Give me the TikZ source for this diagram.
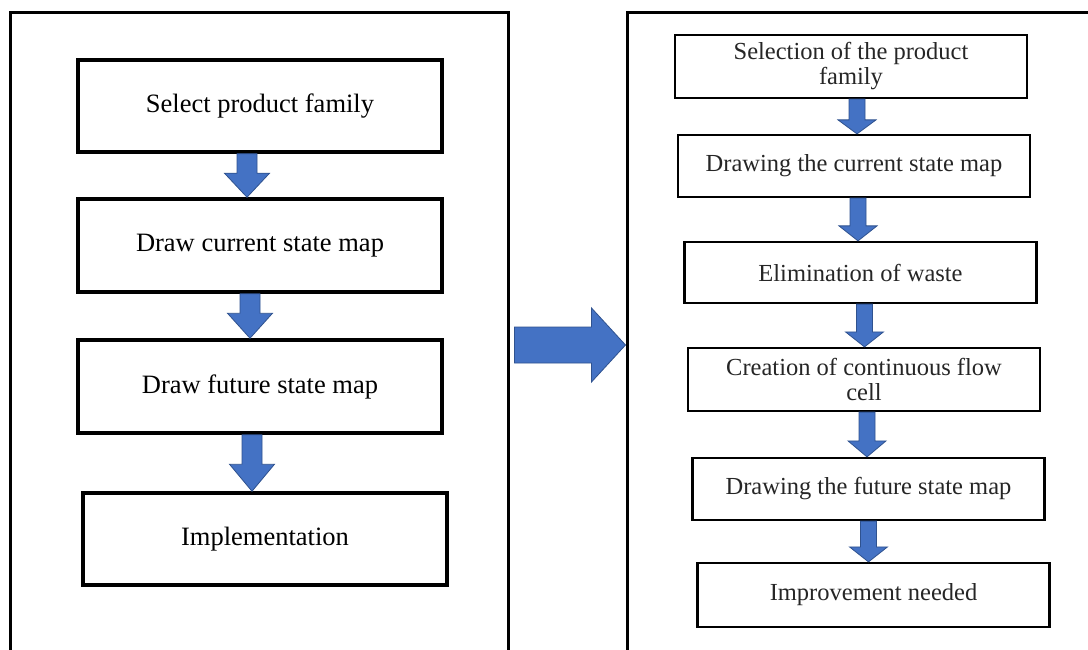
\documentclass[tikz,border=0pt]{standalone}
\usepackage{fontspec}
\setmainfont{Liberation Serif}
\usetikzlibrary{calc}
\definecolor{arrowblue}{RGB}{68,114,196}
\definecolor{arrowedge}{RGB}{47,82,143}
\newcommand\flowdown[6]{\draw[blockarrow] let \p1=($(#1.south)+(#3,0)$), \p2=(#2.north) in
  (\x1-#4pt,\y1) -- (\x1+#4pt,\y1) -- (\x1+#4pt,\y2+#6pt) -- (\x1+#5pt,\y2+#6pt) -- (\x1,\y2)
  -- (\x1-#5pt,\y2+#6pt) -- (\x1-#4pt,\y2+#6pt) -- cycle;}
\begin{document}
\begin{tikzpicture}[x=1pt,y=-1pt]
        \tikzstyle{panel}=[draw,line width=3pt,minimum width=498pt,minimum height=664pt,inner sep=0pt]
        \tikzstyle{leftbox}=[draw,line width=3.5pt,fill=white,minimum width=364pt,minimum height=92pt,font=\fontsize{26.5}{30}\selectfont]
        \tikzstyle{rightbox}=[draw,line width=2.2pt,fill=white,minimum width=352pt,minimum height=63pt,align=center,inner sep=2pt,text=black!85,font=\fontsize{24.5}{25}\selectfont]
        \tikzstyle{blockarrow}=[fill=arrowblue,draw=arrowedge,line width=0.8pt,line join=miter]
        \clip (0,0) rectangle (1088,650);
        \fill[white] (0,0) rectangle (1088,650);
        \node[panel] (leftpanel) at (259,345) {};
        \node[panel,minimum width=493pt] (rightpanel) at (873.5,345) {};
        \node[leftbox] (select) at (260,106) {Select product family};
        \node[leftbox,minimum height=93pt] (current) at (260,245.5) {Draw current state map};
        \node[leftbox,minimum height=93pt] (future) at (260,386.5) {Draw future state map};
        \node[leftbox] (implement) at (265,539) {Implementation};
        \node[rightbox] (selection) at (851,66.5) {Selection of the product\\family};
        \node[rightbox,minimum height=62pt] (drawcurrent) at (854,166) {Drawing the current state map};
        \node[rightbox,minimum height=61pt] (waste) at (860.5,272.5) {Elimination of waste};
        \node[rightbox] (flowcell) at (864,379.5) {Creation of continuous flow\\cell};
        \node[rightbox,minimum height=62pt] (drawfuture) at (868.5,489) {Drawing the future state map};
        \node[rightbox,minimum height=64pt] (improve) at (873.5,595) {Improvement needed};
        \flowdown{select}{current}{-13}{10}{22.5}{24}
        \flowdown{current}{future}{-10}{10}{22.5}{25}
        \flowdown{future}{implement}{-8}{10}{22.5}{27}
        \flowdown{selection}{drawcurrent}{6}{8}{19}{14}
        \flowdown{drawcurrent}{waste}{4}{8}{19}{15}
        \flowdown{waste}{flowcell}{4}{8}{19}{15}
        \flowdown{flowcell}{drawfuture}{3}{8}{19}{16}
        \flowdown{drawfuture}{improve}{0}{8}{19}{15}
        \draw[blockarrow] let \p1=(leftpanel.east), \p2=(rightpanel.west) in
          (\x1+5pt,\y1+18pt) -- (\x2-34pt,\y1+18pt) -- (\x2-34pt,\y1+37pt) -- (\x2,\y1)
          -- (\x2-34pt,\y1-37pt) -- (\x2-34pt,\y1-18pt) -- (\x1+5pt,\y1-18pt) -- cycle;
    \end{tikzpicture}
\end{document}
